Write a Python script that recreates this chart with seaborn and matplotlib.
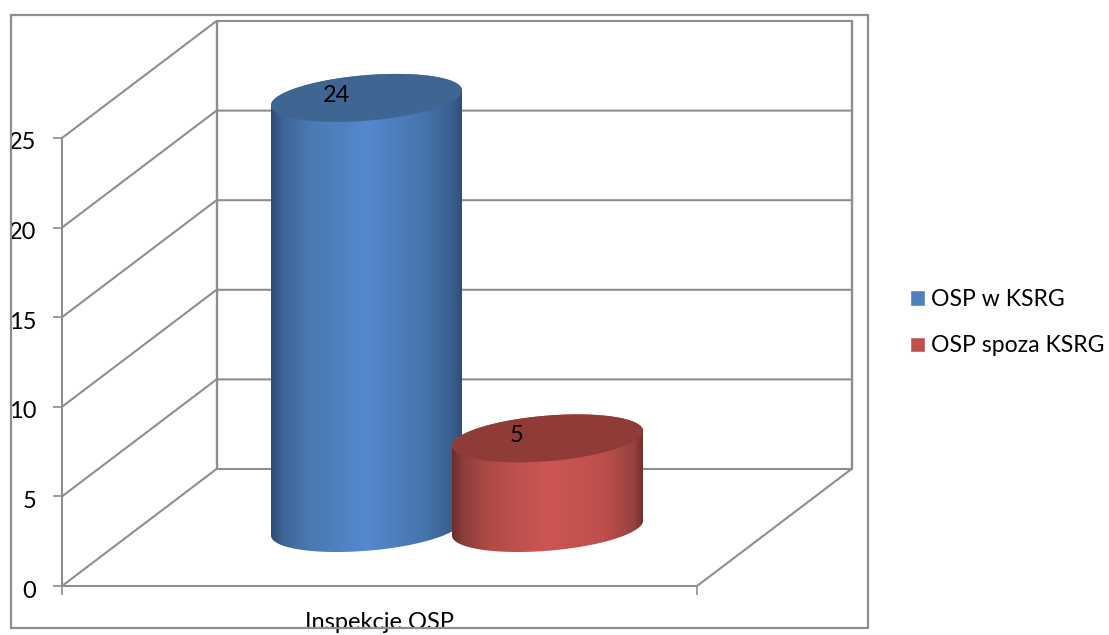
import numpy as np
import pandas as pd
import seaborn as sn
import matplotlib
matplotlib.use("Agg")
import matplotlib.pyplot as plt
from matplotlib.colors import LinearSegmentedColormap
from matplotlib.patches import Polygon, Rectangle
from matplotlib.transforms import ScaledTranslation

W, H = 1109, 635

category = ["Inspekcje OSP"]
series = ["OSP w KSRG", "OSP spoza KSRG"]
values = [24, 5]
y_ticks = [0, 5, 10, 15, 20, 25]

legend_colors = ["#4F81BD", "#C0504D"]
cap_colors = ["#3F6592", "#8F3B38"]
side_stops = [0, 0.06, 0.2, 0.5, 0.8, 0.95, 1]
side_colors = [
    ["#2E4D75", "#3D6496", "#4A78B2", "#5588CE", "#4674AD", "#3A5F8E", "#2F4F78"],
    ["#6D2E2C", "#8E3E3C", "#B04B48", "#CD5654", "#BC4F4C", "#96423F", "#6B2D2B"],
]
line_c = "#8E8E8E"
font_size = 17

sn.set_theme(style="white")
plt.rcParams["font.family"] = ["Lato", "DejaVu Sans"]

fig = plt.figure(figsize=(W / 100, H / 100), dpi=100, facecolor="white")
fig.add_artist(
    Rectangle((10.5 / W, 1 - 628 / H), 857.5 / W, 613 / H, transform=fig.transFigure,
              fill=False, edgecolor=line_c, linewidth=1.6)
)

# front plane of the 3d box, holds the value axis
ax_front = fig.add_axes([62 / W, 1 - 586 / H, 635 / W, 448 / H])
ax_front.patch.set_alpha(0)
ax_front.set_xlim(0, 1)
ax_front.set_ylim(0, 25)
unit = 448 / 25
dx = 154.5 / 635
dy = 117 / unit
for v in y_ticks:
    ax_front.plot([0, dx, 1 + dx], [v, v + dy, v + dy], color=line_c, lw=1.5, clip_on=False, zorder=1)
ax_front.plot([dx, dx], [dy, 25 + dy], color=line_c, lw=1.7, clip_on=False, zorder=1)
ax_front.plot([1 + dx, 1 + dx], [dy, 25 + dy], color=line_c, lw=1.7, clip_on=False, zorder=1)
ax_front.plot([1, 1 + dx], [0, dy], color=line_c, lw=1.5, clip_on=False, zorder=1)
for s in ["top", "right"]:
    ax_front.spines[s].set_visible(False)
for s in ["left", "bottom"]:
    ax_front.spines[s].set_color(line_c)
    ax_front.spines[s].set_linewidth(1.5)
ax_front.set_yticks(y_ticks)
ax_front.set_xticks([0, 1])
ax_front.set_xticklabels([])
ax_front.tick_params(axis="both", length=6.5, width=1.2, color=line_c, left=True, bottom=True,
                     labelsize=font_size, labelcolor="black")
ax_front.tick_params(axis="y", pad=12)
for lbl in ax_front.get_yticklabels():
    lbl.set_transform(lbl.get_transform() + ScaledTranslation(0, -3 / 100, fig.dpi_scale_trans))
ax_front.set_xlabel(category[0], fontsize=font_size, color="black", labelpad=9)

# bars stand half way into the box
ax_bar = fig.add_axes([139.5 / W, 1 - 528 / H, 635 / W, 448 / H])
ax_bar.patch.set_alpha(0)
df = pd.DataFrame({"cat": category * 2, "series": series, "value": values})
sn.barplot(data=df, x="cat", y="value", hue="series", hue_order=series, palette=legend_colors,
           width=0.57, dodge=True, ax=ax_bar, saturation=1)
ax_bar.set_xlim(-0.5, 0.5)
ax_bar.set_ylim(0, 25)
sn.move_legend(ax_bar, "upper left", bbox_to_anchor=(910 / W, 1 - 289 / H), bbox_transform=fig.transFigure,
               frameon=False, title=None, fontsize=16.6, handlelength=0.65, handleheight=0.65,
               handletextpad=0.27, labelspacing=1.1, borderpad=0, borderaxespad=0, labelcolor="black")

tilt = 7.5 / unit
minor = 22.8 / unit
half_w = 95.5 / 635
t = np.linspace(0, 2 * np.pi, 240)
for i, cont in enumerate(ax_bar.containers):
    bar = cont[0]
    cx = bar.get_x() + bar.get_width() / 2
    h = bar.get_height()
    bar.set_x(cx - half_w)
    bar.set_width(2 * half_w)
    z = 3 + i * 2
    bar.set_zorder(z)

    low = np.linspace(np.pi, 2 * np.pi, 120)
    up = np.linspace(0, np.pi, 120)
    bx = cx + half_w * np.cos(low)
    by = tilt * np.cos(low) + minor * np.sin(low)
    tx = cx + half_w * np.cos(up)
    ty = h + tilt * np.cos(up) + minor * np.sin(up)
    body = Polygon(np.r_[np.c_[bx, by], np.c_[tx, ty]], closed=True, transform=ax_bar.transData,
                   facecolor="none", edgecolor="none", clip_on=False)
    ax_bar.add_patch(body)
    bar.set_clip_box(None)
    bar.set_clip_path(body)

    cmap = LinearSegmentedColormap.from_list("side", list(zip(side_stops, side_colors[i])))
    img = ax_bar.imshow(np.linspace(0, 1, 256)[None, :], cmap=cmap, aspect="auto", interpolation="bilinear",
                        extent=(cx - half_w, cx + half_w, -3, h + 3), zorder=z + 0.2)
    # images need a real box, otherwise they stop at the axes edge
    img.set_clip_box(fig.bbox)
    img.set_clip_path(body)
    ax_bar.add_patch(Polygon(np.c_[cx + half_w * np.cos(t), h + tilt * np.cos(t) + minor * np.sin(t)],
                             closed=True, facecolor=cap_colors[i], edgecolor="none", zorder=z + 0.5,
                             clip_on=False))
    ax_bar.text(cx - 30.5 / 635, h + 2.5 / unit, str(values[i]), ha="center", va="center",
                fontsize=font_size, color="black", zorder=10)

ax_bar.set_xlim(-0.5, 0.5)
ax_bar.set_ylim(0, 25)
ax_bar.set_axis_off()

fig.savefig("out.png", dpi=100)
